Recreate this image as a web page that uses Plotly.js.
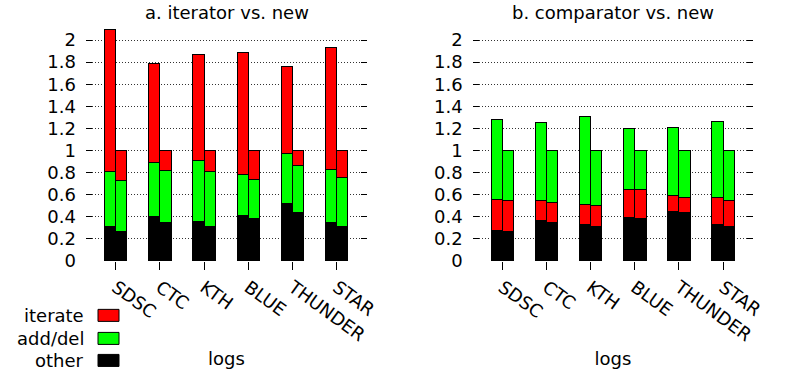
<!DOCTYPE html>
<html>
<head>
<meta charset="utf-8">
<script src="https://cdn.plot.ly/plotly-3.0.1.min.js"></script>
<style>html,body{margin:0;padding:0;background:#fff;}#chart{width:791px;height:375px;}</style>
</head>
<body>
<div id="chart"></div>
<script>
// ---- data ----
var logs = ['SDSC', 'CTC', 'KTH', 'BLUE', 'THUNDER', 'STAR'];
var seriesNames = ['iterate', 'add/del', 'other'];
var seriesColors = ['#ff0000', '#00ff00', '#000000'];

// a. iterator vs. new (iterator bars)
var iterOther = [0.31, 0.40, 0.36, 0.41, 0.52, 0.35];
var iterAdd   = [0.50, 0.49, 0.55, 0.37, 0.45, 0.48];
var iterIter  = [1.29, 0.90, 0.96, 1.11, 0.79, 1.10];

// b. comparator vs. new (comparator bars)
var compOther = [0.28, 0.37, 0.33, 0.39, 0.45, 0.33];
var compIter  = [0.28, 0.18, 0.18, 0.26, 0.14, 0.24];
var compAdd   = [0.72, 0.70, 0.80, 0.55, 0.62, 0.69];

// new (normalised to 1)
var newOther = [0.27, 0.35, 0.31, 0.38, 0.44, 0.31];
var newAdd   = [0.455, 0.47, 0.50, 0.355, 0.425, 0.45];
var newIter  = [0.275, 0.18, 0.19, 0.265, 0.135, 0.24];

var panelTitles = ['a. iterator vs. new', 'b. comparator vs. new'];
var xTitle = 'logs';

// ---- layout helpers ----
var W = 791, H = 375;
var mT = 29, mB = 114.3;
var plotH = H - mT - mB;
var FONT = 'DejaVu Sans, Liberation Sans, Arial, sans-serif';
var FS = 18;
var barW = 0.255;
var idx = logs.map(function (_, i) { return i; });
var xLeft = idx.map(function (i) { return i - barW / 2; });
var xRight = idx.map(function (i) { return i + barW / 2; });
function py(p) { return (H - mB - p) / plotH; }   // pixel y -> paper y
function px(p) { return p / W; }                  // pixel x -> paper x

var colorOf = {};
seriesNames.forEach(function (n, i) { colorOf[n] = seriesColors[i]; });

function bar(x, y, name, xa, ya) {
  return {
    type: 'bar', x: x, y: y, name: name, width: barW,
    xaxis: xa, yaxis: ya, showlegend: false,
    marker: { color: colorOf[name], line: { color: '#000', width: 1 } },
    hoverinfo: 'y+name'
  };
}

var data = [
  // panel a: iterator (other, add/del, iterate)
  bar(xLeft, iterOther, 'other', 'x', 'y'),
  bar(xLeft, iterAdd, 'add/del', 'x', 'y'),
  bar(xLeft, iterIter, 'iterate', 'x', 'y'),
  // panel a: new
  bar(xRight, newOther, 'other', 'x', 'y'),
  bar(xRight, newAdd, 'add/del', 'x', 'y'),
  bar(xRight, newIter, 'iterate', 'x', 'y'),
  // panel b: comparator (other, iterate, add/del)
  bar(xLeft, compOther, 'other', 'x2', 'y2'),
  bar(xLeft, compIter, 'iterate', 'x2', 'y2'),
  bar(xLeft, compAdd, 'add/del', 'x2', 'y2'),
  // panel b: new
  bar(xRight, newOther, 'other', 'x2', 'y2'),
  bar(xRight, newIter, 'iterate', 'x2', 'y2'),
  bar(xRight, newAdd, 'add/del', 'x2', 'y2')
];

function xaxis(domain, anchor) {
  return {
    domain: domain, anchor: anchor, range: [-0.672, 5.685],
    tickmode: 'array', tickvals: idx, ticktext: logs, tickangle: 36,
    ticks: 'outside', ticklen: 8, tickwidth: 1, tickcolor: '#000',
    showgrid: false, zeroline: false, showline: false,
    tickfont: { family: FONT, size: FS, color: '#000' },
    title: { text: xTitle, font: { family: FONT, size: FS, color: '#000' }, standoff: 8 }
  };
}
function yaxis(anchor) {
  return {
    anchor: anchor, domain: [0, 1], range: [-0.0005, 2.1], dtick: 0.2, tick0: 0,
    ticks: 'inside', ticklen: 6, tickwidth: 1, tickcolor: '#000', mirror: 'ticks',
    showline: false, zeroline: false,
    showgrid: true, gridcolor: '#333', griddash: '1px,2px', gridwidth: 1,
    tickfont: { family: FONT, size: FS, color: '#000' },
    ticklabelstandoff: 9
  };
}

var annotations = [];
var shapes = [];
// subplot titles
var panelCenters = [(86 + 367) / 2, (472.7 + 753.3) / 2];
panelTitles.forEach(function (t, i) {
  annotations.push({
    text: t, xref: 'paper', yref: 'paper', x: px(panelCenters[i]), y: py(13),
    xanchor: 'center', yanchor: 'middle', showarrow: false,
    font: { family: FONT, size: FS, color: '#000' }
  });
});
// legend (label left of the swatch)
var legY = [315, 338, 360];
seriesNames.forEach(function (n, i) {
  annotations.push({
    text: n, xref: 'paper', yref: 'paper', x: px(86), y: py(legY[i]),
    xanchor: 'right', yanchor: 'middle', showarrow: false,
    font: { family: FONT, size: FS, color: '#000' }
  });
  shapes.push({
    type: 'rect', xref: 'paper', yref: 'paper',
    x0: px(98), x1: px(119), y0: py(legY[i] + 6), y1: py(legY[i] - 6),
    fillcolor: seriesColors[i], line: { color: '#000', width: 1 }
  });
});

var layout = {
  width: W, height: H,
  margin: { l: 0, r: 0, t: mT, b: mB, pad: 0 },
  paper_bgcolor: '#fff', plot_bgcolor: '#fff',
  barmode: 'stack', bargap: 0,
  showlegend: false,
  font: { family: FONT, size: FS, color: '#000' },
  xaxis: xaxis([px(86), px(367)], 'y'),
  yaxis: yaxis('x'),
  xaxis2: xaxis([px(472.7), px(753.3)], 'y2'),
  yaxis2: yaxis('x2'),
  annotations: annotations,
  shapes: shapes
};

Plotly.newPlot('chart', data, layout, { displayModeBar: false, staticPlot: true });
</script>
</body>
</html>
